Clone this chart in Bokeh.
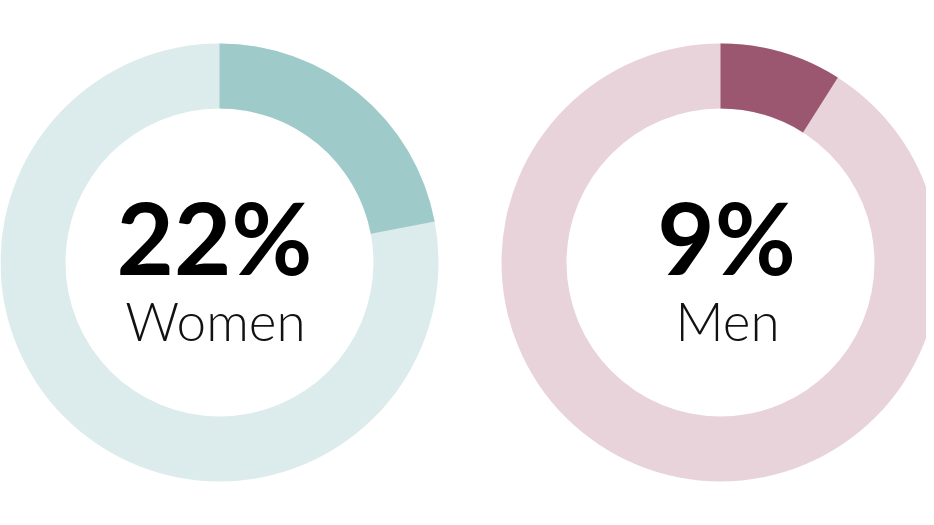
from bokeh.plotting import figure
from bokeh.models import Range1d, ColumnDataSource
from bokeh.core.properties import value
from bokeh.embed import file_html
from bokeh.resources import INLINE
import math

# data
groups = ["Women", "Men"]
shares = [22, 9]          # percent
pct_labels = ["22%", "9%"]

# style / layout
dark_colors = ["#9fcaca", "#9b5670"]
light_colors = ["#dcebeb", "#e8d3da"]
W, H = 926, 517
centers_x = [219, 720]     # px
center_y = 255
r_out, r_in = 219, 154

p = figure(width=W, height=H, output_backend="svg", toolbar_location=None,
           x_range=Range1d(0, W), y_range=Range1d(0, H),
           x_axis_type=None, y_axis_type=None, min_border=0)
p.outline_line_color = None
p.grid.visible = False
p.background_fill_color = "white"

top = math.pi / 2
ends = [top - 2 * math.pi * s / 100 for s in shares]

bg = ColumnDataSource(dict(x=centers_x, y=[center_y] * 2, c=light_colors))
p.annulus(x="x", y="y", inner_radius=r_in, outer_radius=r_out, source=bg,
          fill_color="c", line_color=None)

fg = ColumnDataSource(dict(x=centers_x, y=[center_y] * 2, c=dark_colors,
                           s=[top] * 2, e=ends))
p.annular_wedge(x="x", y="y", inner_radius=r_in, outer_radius=r_out,
                start_angle="s", end_angle="e", direction="clock",
                source=fg, fill_color="c", line_color=None)

num = ColumnDataSource(dict(x=[214, 726], y=[281, 281], t=pct_labels))
p.text(x="x", y="y", text="t", source=num, text_align="center",
       text_baseline="alphabetic", text_font=value("Lato"),
       text_font_style="bold", text_font_size="99px", text_color="#000000")

lab = ColumnDataSource(dict(x=[215, 727], y=[197, 197], t=groups))
p.text(x="x", y="y", text="t", source=lab, text_align="center",
       text_baseline="alphabetic", text_font=value("Lato Light"),
       text_font_size="53px", text_color="#111111")

open("out.html", "w").write(file_html(p, INLINE))
